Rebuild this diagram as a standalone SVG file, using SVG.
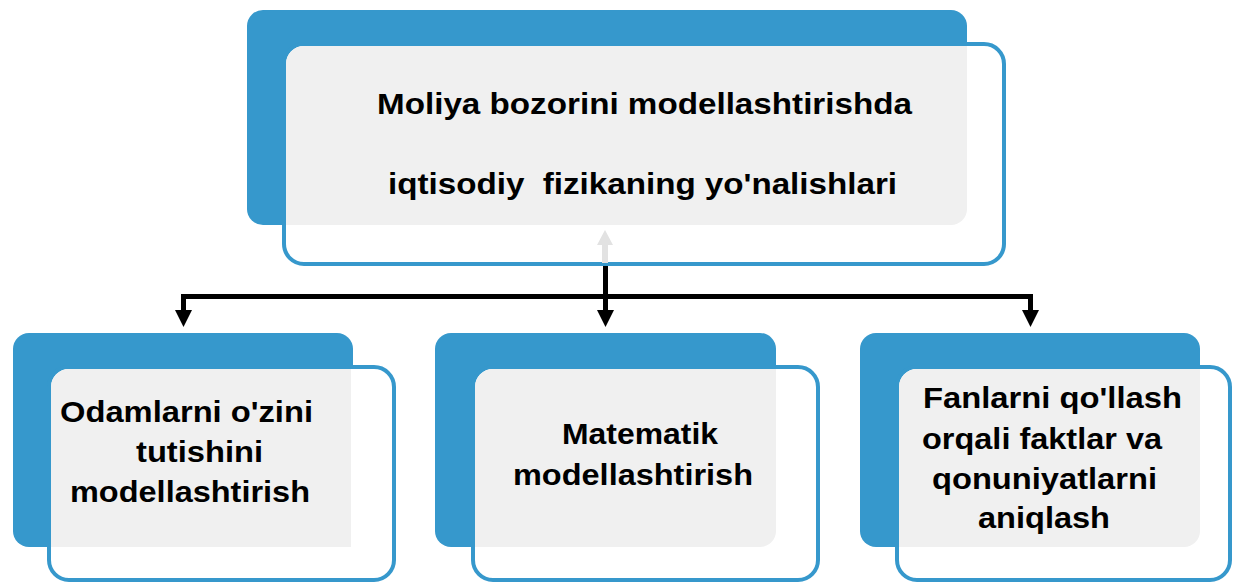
<svg xmlns="http://www.w3.org/2000/svg" width="1234" height="583" viewBox="0 0 1234 583">
<style>
.back{fill:#3698cc}
.front{fill:#ffffff;stroke:#3698cc;stroke-width:4}
.inner{fill:#f0f0f0}
.t{font-family:"Liberation Sans",Arial,sans-serif;font-weight:bold;font-size:30px;fill:#000;white-space:pre}
.conn{fill:none;stroke:#000;stroke-width:5;stroke-linejoin:miter}
.head{fill:#000}
</style>
<rect width="1234" height="583" fill="#ffffff"/>
<g id="top">
<rect class="back" x="247" y="10" width="720" height="215" rx="16"/>
<rect class="front" x="284" y="44" width="720" height="220" rx="20"/>
<path class="inner" d="M304,46 H967 V209 A16,16 0 0 1 951,225 H286 V64 A18,18 0 0 1 304,46 Z"/>
<polygon points="605,230 597,245 613,245" fill="#e2e2e2"/>
<rect x="602" y="244" width="6" height="19" fill="#e2e2e2"/>
<text class="t" x="377" y="114" textLength="535" lengthAdjust="spacingAndGlyphs">Moliya bozorini modellashtirishda</text>
<text class="t" x="388" y="194" textLength="509" lengthAdjust="spacingAndGlyphs">iqtisodiy  fizikaning yo'nalishlari</text>
</g>
<g id="node1">
<rect class="back" x="13" y="333" width="340" height="214" rx="16"/>
<rect class="front" x="49" y="367" width="345" height="213" rx="20"/>
<path class="inner" d="M69,369 H351 V547 H51 V387 A18,18 0 0 1 69,369 Z"/>
<text class="t" x="60" y="422" textLength="253" lengthAdjust="spacingAndGlyphs">Odamlarni o'zini</text>
<text class="t" x="136" y="462" textLength="127" lengthAdjust="spacingAndGlyphs">tutishini</text>
<text class="t" x="70" y="502" textLength="240" lengthAdjust="spacingAndGlyphs">modellashtirish</text>
</g>
<g id="node2">
<rect class="back" x="435" y="333" width="341" height="214" rx="16"/>
<rect class="front" x="473" y="367" width="345" height="213" rx="20"/>
<path class="inner" d="M493,369 H776 V531 A16,16 0 0 1 760,547 H475 V387 A18,18 0 0 1 493,369 Z"/>
<text class="t" x="562" y="444" textLength="156" lengthAdjust="spacingAndGlyphs">Matematik</text>
<text class="t" x="513" y="485" textLength="240" lengthAdjust="spacingAndGlyphs">modellashtirish</text>
</g>
<g id="node3">
<rect class="back" x="860" y="333" width="340" height="214" rx="16"/>
<rect class="front" x="897" y="367" width="333" height="213" rx="20"/>
<path class="inner" d="M917,369 H1200 V531 A16,16 0 0 1 1184,547 H899 V387 A18,18 0 0 1 917,369 Z"/>
<text class="t" x="923" y="408" textLength="259" lengthAdjust="spacingAndGlyphs">Fanlarni qo'llash</text>
<text class="t" x="922" y="449" textLength="240" lengthAdjust="spacingAndGlyphs">orqali faktlar va</text>
<text class="t" x="932" y="489" textLength="225" lengthAdjust="spacingAndGlyphs">qonuniyatlarni</text>
<text class="t" x="978" y="528" textLength="132" lengthAdjust="spacingAndGlyphs">aniqlash</text>
</g>
<g id="connectors">
<path class="conn" d="M183.5,311 V296.5 H1030.5 V311"/>
<path class="conn" d="M605.5,266 V311"/>
<polygon class="head" points="175,310 192,310 183.5,327"/>
<polygon class="head" points="597,310 614,310 605.5,327"/>
<polygon class="head" points="1022,310 1039,310 1030.5,327"/>
</g>
</svg>
